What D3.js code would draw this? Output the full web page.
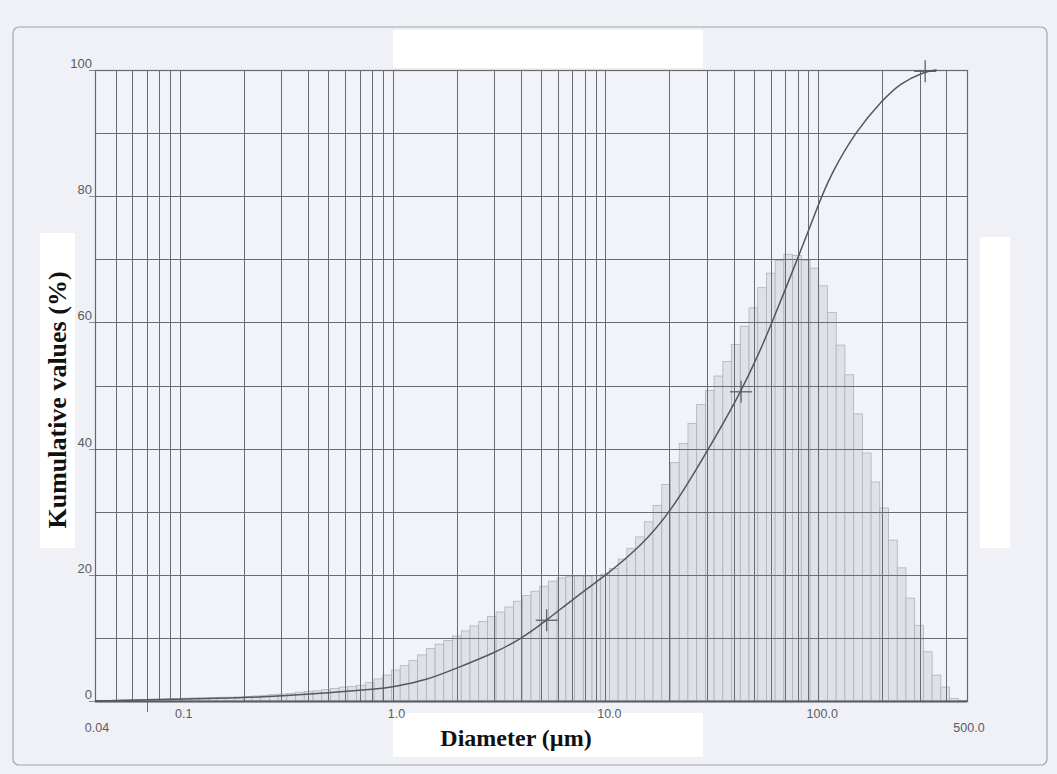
<!DOCTYPE html>
<html>
<head>
<meta charset="utf-8">
<script src="https://cdn.jsdelivr.net/npm/d3@7"></script>
<style>
  html, body { margin: 0; padding: 0; background: #eff1f7; }
  svg { display: block; }
</style>
</head>
<body>
<svg id="chart" width="1057" height="774"></svg>
<script>
// Particle size distribution: differential histogram (100 log classes) + cumulative curve
const sizeRange = [0.04, 500];          // µm
const classCount = 100;

// histogram heights per class, smallest diameter first
const classValues = [
  0.1, 0.1, 0.15, 0.2, 0.2, 0.25, 0.3, 0.3, 0.35, 0.4,
  0.45, 0.5, 0.5, 0.55, 0.6, 0.6, 0.65, 0.7, 0.8, 0.9,
  1.0, 1.1, 1.2, 1.4, 1.5, 1.6, 1.8, 2.0, 2.2, 2.3,
  2.5, 2.9, 3.5, 4.1, 4.9, 5.6, 6.4, 7.3, 8.3, 9.0,
  9.6, 10.3, 11.1, 11.9, 12.6, 13.4, 14.1, 14.9, 15.8, 16.7,
  17.4, 18.2, 19.0, 19.5, 19.7, 19.8, 19.8, 19.9, 20.1, 21.0,
  22.5, 24.2, 26.0, 28.4, 31.0, 34.3, 37.8, 40.8, 44.0, 47.0,
  49.2, 51.5, 53.8, 56.5, 59.4, 62.3, 65.5, 67.8, 69.8, 70.8,
  70.6, 69.8, 68.6, 65.8, 61.6, 56.4, 51.7, 45.5, 39.3, 34.7,
  30.6, 25.5, 21.1, 16.3, 12.0, 7.8, 4.1, 2.2, 0.4, 0.1
];

// cumulative curve (diameter µm, %)
const cumDiameter = [0.04, 0.1, 0.2, 0.3, 0.5, 0.85, 1.0, 1.45, 2.0, 3.0, 4.0, 5.3, 7.2, 10.3, 14.5, 20.2, 31, 43.4, 53, 60, 70, 82, 100, 114, 150, 200, 243, 313, 360];
const cumPercent  = [0,    0.3, 0.5, 0.8, 1.3, 1.9,  2.2, 3.3,  5.2, 7.6, 9.8, 12.8, 16.4, 20.2, 24.4, 29.8, 40.3, 49.0, 55.3, 59.6, 65.2, 71.0, 78.6, 83.3, 90.3, 95.2, 97.9, 99.7, 100];

// marked points on the cumulative curve
const markDiameter = [5.3, 43.4, 318];
const markPercent  = [12.8, 49.0, 99.8];

const yTickValues = [0, 20, 40, 60, 80, 100];
const xTickLabels = [
  { v: 0.04, text: "0.04", low: true },
  { v: 0.1, text: "0.1" },
  { v: 1, text: "1.0" },
  { v: 10, text: "10.0" },
  { v: 100, text: "100.0" },
  { v: 500, text: "500.0", low: true }
];

const svg = d3.select("#chart");
const plot = { left: 95, right: 967, top: 70, bottom: 701 };

const x = d3.scaleLog().domain(sizeRange).range([plot.left, plot.right]);
const y = d3.scaleLinear().domain([0, 100]).range([plot.bottom, plot.top]);

// outer frame
svg.append("rect")
  .attr("x", 13).attr("y", 27).attr("width", 1034).attr("height", 738)
  .attr("rx", 6)
  .attr("fill", "#eff1f7").attr("stroke", "#a4a6ad").attr("stroke-width", 1.2);

// white label panels
const panels = [
  [393, 30, 310, 38],
  [393, 713, 310, 44],
  [40, 233, 35, 315],
  [980, 237, 30, 311]
];
svg.selectAll("rect.panel").data(panels).join("rect")
  .attr("class", "panel")
  .attr("x", d => d[0]).attr("y", d => d[1]).attr("width", d => d[2]).attr("height", d => d[3])
  .attr("fill", "#ffffff");

// plot background
svg.append("rect")
  .attr("x", plot.left).attr("y", plot.top)
  .attr("width", plot.right - plot.left).attr("height", plot.bottom - plot.top)
  .attr("fill", "#f1f3f9");

// histogram classes (equal width in log space)
const logMin = Math.log10(sizeRange[0]);
const logStep = (Math.log10(sizeRange[1]) - logMin) / classCount;
const classes = classValues.map((v, i) => ({
  lo: Math.pow(10, logMin + i * logStep),
  hi: Math.pow(10, logMin + (i + 1) * logStep),
  v
}));

svg.append("g").selectAll("rect").data(classes).join("rect")
  .attr("x", d => x(d.lo))
  .attr("y", d => y(d.v))
  .attr("width", d => x(d.hi) - x(d.lo))
  .attr("height", d => y(0) - y(d.v))
  .attr("fill", "#dfe1e8")
  .attr("stroke", "#b0b2ba")
  .attr("stroke-width", 0.8);

// grid
const grid = svg.append("g").attr("stroke", "#6a6c72").attr("stroke-width", 1).attr("fill", "none");
grid.selectAll("line.v").data(x.ticks()).join("line")
  .attr("class", "v")
  .attr("x1", d => Math.round(x(d)) + 0.5).attr("x2", d => Math.round(x(d)) + 0.5)
  .attr("y1", plot.top).attr("y2", plot.bottom);
grid.selectAll("line.h").data(d3.range(0, 101, 10)).join("line")
  .attr("class", "h")
  .attr("x1", plot.left).attr("x2", plot.right)
  .attr("y1", d => Math.round(y(d)) + 0.5).attr("y2", d => Math.round(y(d)) + 0.5);

// plot border
svg.append("rect")
  .attr("x", plot.left + 0.5).attr("y", plot.top + 0.5)
  .attr("width", plot.right - plot.left).attr("height", plot.bottom - plot.top)
  .attr("fill", "none").attr("stroke", "#66686e").attr("stroke-width", 1.2);
svg.append("line")
  .attr("x1", plot.left).attr("x2", plot.right)
  .attr("y1", plot.bottom + 0.5).attr("y2", plot.bottom + 0.5)
  .attr("stroke", "#5a5c62").attr("stroke-width", 1.8);

// y axis ticks and labels
const yAxis = svg.append("g");
yAxis.selectAll("line").data(yTickValues).join("line")
  .attr("x1", plot.left - 6).attr("x2", plot.left)
  .attr("y1", d => Math.round(y(d)) + 0.5).attr("y2", d => Math.round(y(d)) + 0.5)
  .attr("stroke", "#8a8c92");
yAxis.selectAll("text").data(yTickValues).join("text")
  .attr("x", plot.left - 3)
  .attr("y", d => y(d) - 2)
  .attr("text-anchor", "end")
  .attr("font-family", "Liberation Sans, Arial, sans-serif")
  .attr("font-size", 13)
  .attr("fill", "#5a5c62")
  .text(d => d);

// x tick labels
svg.append("g").selectAll("text").data(xTickLabels).join("text")
  .attr("x", d => x(d.v) + (d.low ? 2 : 4))
  .attr("y", d => d.low ? 732 : 718)
  .attr("text-anchor", "middle")
  .attr("font-family", "Liberation Sans, Arial, sans-serif")
  .attr("font-size", 12.5)
  .attr("fill", "#5a5c62")
  .text(d => d.text);

// short marker tick below the axis at 0.07 µm
svg.append("line")
  .attr("x1", Math.round(x(0.07)) + 0.5).attr("x2", Math.round(x(0.07)) + 0.5)
  .attr("y1", plot.bottom - 8).attr("y2", plot.bottom + 11)
  .attr("stroke", "#6a6c72");

// cumulative curve (B-spline through the read-off points for a smooth trace)
const cumPoints = cumDiameter.map((d, i) => [x(d), y(cumPercent[i])]);
svg.append("path")
  .attr("d", d3.line().curve(d3.curveBasis)(cumPoints))
  .attr("fill", "none")
  .attr("stroke", "#55575d")
  .attr("stroke-width", 1.5);

// crosses on the curve
const marks = svg.append("g").attr("stroke", "#55575d").attr("stroke-width", 1.2);
markDiameter.forEach((d, i) => {
  const cx = x(d), cy = y(markPercent[i]);
  marks.append("line").attr("x1", cx - 11).attr("x2", cx + 11).attr("y1", cy).attr("y2", cy);
  marks.append("line").attr("x1", cx).attr("x2", cx).attr("y1", cy - 11).attr("y2", cy + 11);
});

// axis titles
svg.append("text")
  .attr("x", 516).attr("y", 746)
  .attr("text-anchor", "middle")
  .attr("font-family", "Liberation Serif, Times New Roman, serif")
  .attr("font-weight", "bold")
  .attr("font-size", 24)
  .attr("fill", "#111")
  .text("Diameter (µm)");

svg.append("text")
  .attr("transform", "translate(66,400) rotate(-90)")
  .attr("text-anchor", "middle")
  .attr("font-family", "Liberation Serif, Times New Roman, serif")
  .attr("font-weight", "bold")
  .attr("font-size", 26)
  .attr("fill", "#111")
  .text("Kumulative values (%)");
</script>
</body>
</html>
